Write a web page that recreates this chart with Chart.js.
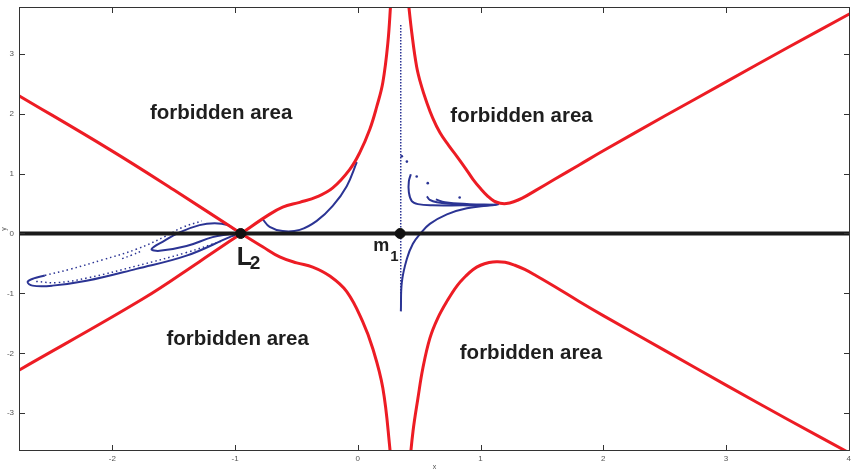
<!DOCTYPE html>
<html>
<head>
<meta charset="utf-8">
<script src="https://cdn.jsdelivr.net/npm/chart.js@4/dist/chart.umd.min.js"></script>
<style>
  html, body { margin: 0; padding: 0; background: #fff; }
  #wrap { width: 852px; height: 471px; }
</style>
</head>
<body>
<div id="wrap"><canvas id="myChart" width="852" height="471"></canvas></div>
<script>
// axis ticks
var xTicks = [-2, -1, 0, 1, 2, 3, 4];
var yTicks = [-3, -2, -1, 0, 1, 2, 3];

// red zero-velocity curves
var redUpperLeftToBottom = [[-2.76, 2.30], [-2.02, 1.40], [-1.50, 0.73], [-0.95, 0.0], [-0.775, -0.22], [-0.636, -0.39], [-0.498, -0.49], [-0.367, -0.56], [-0.228, -0.71], [-0.09, -0.97], [0.04, -1.47], [0.122, -1.92], [0.204, -2.58], [0.261, -3.58], [0.27, -3.9]];
var redLowerLeftToTop = [[-2.76, -2.28], [-1.75, -1.09], [-1.29, -0.47], [-0.95, 0.0], [-0.742, 0.29], [-0.612, 0.44], [-0.473, 0.52], [-0.334, 0.61], [-0.204, 0.76], [-0.065, 1.07], [0.016, 1.35], [0.098, 1.74], [0.155, 2.12], [0.204, 2.52], [0.245, 3.18], [0.27, 3.9]];
var redUpperRight = [[0.41, 3.9], [0.44, 3.35], [0.48, 2.78], [0.52, 2.45], [0.56, 2.2], [0.61, 1.93], [0.67, 1.68], [0.74, 1.47], [0.81, 1.28], [0.88, 1.08], [0.94, 0.90], [1.0, 0.75], [1.06, 0.62], [1.11, 0.54], [1.16, 0.505], [1.21, 0.50], [1.27, 0.53], [1.34, 0.59], [1.45, 0.72], [1.60, 0.90], [1.80, 1.14], [2.0, 1.38], [2.5, 1.96], [3.0, 2.53], [3.5, 3.10], [4.02, 3.68]];
var redLowerRight = [[0.42, -3.9], [0.45, -3.3], [0.49, -2.75], [0.53, -2.25], [0.587, -1.75], [0.65, -1.42], [0.73, -1.12], [0.81, -0.87], [0.88, -0.71], [0.94, -0.60], [1.0, -0.53], [1.07, -0.485], [1.13, -0.47], [1.20, -0.48], [1.28, -0.53], [1.36, -0.60], [1.45, -0.70], [1.60, -0.88], [1.80, -1.13], [2.0, -1.37], [2.5, -1.95], [3.0, -2.53], [3.5, -3.10], [4.02, -3.68]];

// blue trajectories
var blueInnerLoop = [[-1.0, 0.06], [-1.06, 0.14], [-1.166, 0.17], [-1.289, 0.14], [-1.452, 0.02], [-1.574, -0.12], [-1.68, -0.26], [-1.615, -0.29], [-1.395, -0.21], [-1.183, -0.06], [-1.044, -0.01]];
var blueOuterSolid = [[-1.0, -0.03], [-1.044, -0.06], [-1.395, -0.37], [-1.803, -0.59], [-2.21, -0.79], [-2.488, -0.87], [-2.65, -0.87], [-2.69, -0.81], [-2.64, -0.75], [-2.55, -0.70]];
var blueOuterDots = [[-2.55, -0.70], [-2.35, -0.60], [-2.08, -0.44], [-1.80, -0.26], [-1.56, -0.04], [-1.43, 0.10], [-1.27, 0.21]];
var blueInnerDots = [[-2.62, -0.80], [-2.45, -0.82], [-2.2, -0.74], [-1.8, -0.54], [-1.4, -0.32], [-1.1, -0.12]];
var blueArrowDots = [[-1.92, -0.42], [-1.84, -0.36], [-1.76, -0.29]];
var blueArcToM1 = [[-0.775, 0.24], [-0.718, 0.11], [-0.612, 0.04], [-0.473, 0.06], [-0.334, 0.21], [-0.204, 0.46], [-0.09, 0.79], [-0.008, 1.19]];
var blueSpike = [[0.351, -1.30], [0.359, -0.81], [0.40, -0.42], [0.449, -0.17], [0.506, -0.01], [0.587, 0.16], [0.726, 0.32], [0.889, 0.42], [1.077, 0.47], [1.15, 0.49]];
var blueHook1 = [[0.432, 0.99], [0.416, 0.87], [0.416, 0.69], [0.44, 0.54], [0.49, 0.49], [0.61, 0.47], [0.856, 0.47], [1.077, 0.47], [1.15, 0.49]];
var blueHook2 = [[0.563, 0.62], [0.587, 0.56], [0.644, 0.52], [0.775, 0.49], [0.995, 0.47], [1.12, 0.48]];
var blueHook3 = [[0.636, 0.57], [0.71, 0.52], [0.91, 0.49], [1.10, 0.48]];
var blueScatter = [[0.359, 1.29], [0.40, 1.2], [0.48, 0.95], [0.57, 0.84], [0.83, 0.6]];
var blueVertical = [[0.35, 3.48], [0.35, -1.0]];

// x axis line and the two marked points
var zeroLine = [[-2.76, 0], [4.01, 0]];
var pointL2 = [[-0.954, 0]];
var pointM1 = [[0.345, 0]];

// "forbidden area" labels (data positions)
var areaLabels = [[-1.113, 2.0], [1.334, 1.95], [-0.979, -1.77], [1.411, -2.0]];

var RED = 'rgb(237,28,36)';
var BLUE = 'rgb(43,52,148)';
var FONT = '"Liberation Sans", Arial, sans-serif';

function pts(a) { return a.map(function (p) { return { x: p[0], y: p[1] }; }); }

function redLine(d) {
    return { data: pts(d), showLine: true, borderColor: RED, borderWidth: 3, pointRadius: 0, tension: 0.4, fill: false, order: 2 };
}
function blueLine(d) {
    return { data: pts(d), showLine: true, borderColor: BLUE, borderWidth: 2, pointRadius: 0, tension: 0.4, fill: false, order: 3 };
}
function blueDots(d) {
    return { data: pts(d), showLine: true, borderColor: BLUE, borderWidth: 1.5, borderDash: [1.5, 3], pointRadius: 0, tension: 0.4, fill: false, order: 3 };
}

var decor = {
    id: 'decor',
    afterDatasetsDraw: function (chart) {
        var c = chart.ctx, a = chart.chartArea;
        var xs = chart.scales.x, ys = chart.scales.y;
        c.save();
        // matlab style box with inward ticks
        c.strokeStyle = '#333';
        c.lineWidth = 1;
        c.strokeRect(a.left + 0.5, a.top + 0.5, a.right - a.left - 1, a.bottom - a.top - 1);
        c.beginPath();
        xTicks.forEach(function (v) {
            var px = Math.round(xs.getPixelForValue(v)) + 0.5;
            c.moveTo(px, a.bottom); c.lineTo(px, a.bottom - 6);
            c.moveTo(px, a.top); c.lineTo(px, a.top + 6);
        });
        yTicks.forEach(function (v) {
            var py = Math.round(ys.getPixelForValue(v)) + 0.5;
            c.moveTo(a.left, py); c.lineTo(a.left + 6, py);
            c.moveTo(a.right, py); c.lineTo(a.right - 6, py);
        });
        c.stroke();

        // region labels
        c.fillStyle = '#1e1e1e';
        c.font = 'bold 20.5px ' + FONT;
        c.textAlign = 'center';
        c.textBaseline = 'middle';
        areaLabels.forEach(function (p) {
            c.fillText('forbidden area', xs.getPixelForValue(p[0]), ys.getPixelForValue(p[1]));
        });

        // L2 and m1
        c.textAlign = 'left';
        c.textBaseline = 'alphabetic';
        var lx = xs.getPixelForValue(pointL2[0][0]), ly = ys.getPixelForValue(0);
        c.font = 'bold 25px ' + FONT;
        c.fillText('L', lx - 4, ly + 32);
        c.font = 'bold 19px ' + FONT;
        c.fillText('2', lx + 9, ly + 36);
        var mx = xs.getPixelForValue(pointM1[0][0]);
        c.font = 'bold 18px ' + FONT;
        c.fillText('m', mx - 27, ly + 18);
        c.font = 'bold 15px ' + FONT;
        c.fillText('1', mx - 10, ly + 28);
        c.restore();
    }
};

var ctx = document.getElementById('myChart').getContext('2d');
var myChart = new Chart(ctx, {
    type: 'scatter',
    data: {
        datasets: [
            { data: pts(pointL2), pointRadius: 5, pointBackgroundColor: '#111', pointBorderColor: '#111', order: 0 },
            { data: pts(pointM1), pointRadius: 5, pointBackgroundColor: '#111', pointBorderColor: '#111', order: 0 },
            { data: pts(zeroLine), showLine: true, borderColor: '#1a1a1a', borderWidth: 4, pointRadius: 0, order: 1 },
            redLine(redUpperLeftToBottom),
            redLine(redLowerLeftToTop),
            redLine(redUpperRight),
            redLine(redLowerRight),
            blueLine(blueInnerLoop),
            blueLine(blueOuterSolid),
            blueDots(blueOuterDots),
            blueDots(blueInnerDots),
            blueDots(blueArrowDots),
            blueLine(blueArcToM1),
            blueLine(blueSpike),
            blueLine(blueHook1),
            blueLine(blueHook2),
            blueLine(blueHook3),
            { data: pts(blueScatter), pointRadius: 1.3, pointBackgroundColor: BLUE, pointBorderWidth: 0, order: 3 },
            { data: pts(blueVertical), showLine: true, borderColor: BLUE, borderWidth: 1.5, borderDash: [1.5, 1.5], pointRadius: 0, order: 3 }
        ]
    },
    options: {
        responsive: false,
        animation: false,
        layout: { autoPadding: false, padding: { top: 7, right: 2, left: 0, bottom: 0 } },
        plugins: {
            legend: { display: false },
            tooltip: { enabled: false }
        },
        scales: {
            x: {
                type: 'linear',
                position: 'bottom',
                min: -2.76,
                max: 4.01,
                afterBuildTicks: function (s) { s.ticks = xTicks.map(function (v) { return { value: v }; }); },
                afterFit: function (s) { s.height = 20; s.paddingLeft = 0; s.paddingRight = 0; },
                grid: { display: false, drawTicks: false },
                border: { display: false },
                ticks: { color: '#555', font: { size: 8, family: FONT }, padding: 3, maxRotation: 0 },
                title: { display: true, text: 'x', color: '#555', font: { size: 7, family: FONT }, padding: 0 }
            },
            y: {
                type: 'linear',
                min: -3.63,
                max: 3.78,
                afterBuildTicks: function (s) { s.ticks = yTicks.map(function (v) { return { value: v }; }); },
                afterFit: function (s) { s.width = 19; s.paddingTop = 0; s.paddingBottom = 0; },
                grid: { display: false, drawTicks: false },
                border: { display: false },
                ticks: { color: '#555', font: { size: 8, family: FONT }, padding: 5 },
                title: { display: true, text: 'y', color: '#555', font: { size: 7, family: FONT }, padding: 0 }
            }
        }
    },
    plugins: [decor]
});
</script>
</body>
</html>
